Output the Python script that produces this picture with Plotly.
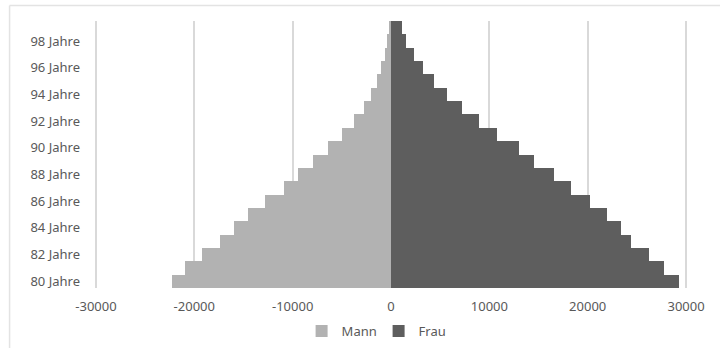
import plotly.graph_objects as go

# Ages 80..99 and population counts per sex
ages = [f"{a} Jahre" for a in range(80, 100)]
mann = [22300, 20950, 19250, 17410, 15930, 14560, 12800, 10870, 9410, 7940,
        6420, 4990, 3810, 2720, 2040, 1430, 990, 580, 380, 170]
frau = [29260, 27770, 26200, 24370, 23360, 21930, 20240, 18310, 16610, 14550,
        12980, 10740, 8910, 7220, 5660, 4370, 3290, 2340, 1560, 1080]
x_ticks = [-30000, -20000, -10000, 0, 10000, 20000, 30000]

FONT = "Noto Sans"
TXT = "#595959"
GRID = "#d9d9d9"

fig = go.Figure()
fig.add_trace(go.Bar(y=ages, x=[-v for v in mann], orientation="h", name="Mann",
                     marker=dict(color="#b2b2b2", line=dict(width=0))))
fig.add_trace(go.Bar(y=ages, x=frau, orientation="h", name="Frau",
                     marker=dict(color="#5e5e5e", line=dict(width=0))))

# category boundaries for the tick marks on the centre axis
bounds = [i - 0.5 for i in range(len(ages) + 1)]

fig.update_layout(
    width=720, height=348,
    margin=dict(l=93, r=31, t=21, b=60, autoexpand=False),
    paper_bgcolor="white", plot_bgcolor="white",
    barmode="relative", bargap=0,
    font=dict(family=FONT, size=13, color=TXT),
    showlegend=True,
    legend=dict(orientation="h", x=0.35, y=-0.105, xanchor="left", yanchor="top",
                font=dict(family=FONT, size=13, color=TXT), itemwidth=30,
                entrywidth=32, tracegroupgap=0, bgcolor="rgba(0,0,0,0)"),
    xaxis=dict(range=[-30300, 30300], tickvals=x_ticks,
               ticktext=[str(v) for v in x_ticks],
               showgrid=True, gridcolor=GRID, gridwidth=1.5,
               zeroline=False, showline=False, ticks="",
               ticklabelstandoff=9, automargin=False,
               tickfont=dict(family=FONT, size=13, color=TXT)),
    yaxis=dict(type="category", categoryarray=ages, categoryorder="array",
               range=[-0.5, len(ages) - 0.5],
               tickvals=ages[::2], ticktext=ages[::2],
               showgrid=False, zeroline=False, showline=False, ticks="",
               ticklabelstandoff=12, automargin=False,
               tickfont=dict(family=FONT, size=13, color=TXT)),
    yaxis2=dict(overlaying="y", anchor="free", position=0.5, side="left",
                range=[-0.5, len(ages) - 0.5], tickvals=bounds,
                showticklabels=False, showgrid=False, zeroline=False,
                showline=True, linecolor=GRID, linewidth=1.5, automargin=False,
                ticks="outside", ticklen=4, tickcolor=GRID, tickwidth=1),
)

# outer chart frame: top and left edges (the rest runs off the page)
frame = dict(color="#e3e3e3", width=1.5)
fig.add_shape(type="line", xref="paper", yref="paper",
              x0=-0.14, x1=1.2, y0=1.0585, y1=1.0585, line=frame, layer="below")
fig.add_shape(type="line", xref="paper", yref="paper",
              x0=-0.14, x1=-0.14, y0=1.0585, y1=-0.6, line=frame, layer="below")

fig.write_html("out.html")
